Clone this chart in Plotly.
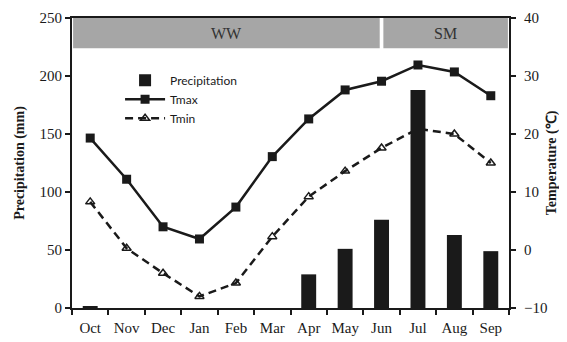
import plotly.graph_objects as go

months = ["Oct", "Nov", "Dec", "Jan", "Feb", "Mar", "Apr", "May", "Jun", "Jul", "Aug", "Sep"]
precip = [1, 0, 0, 0, 0, 0, 29, 51, 76, 188, 63, 49]
tmax = [19.3, 12.2, 4.0, 1.9, 7.4, 16.1, 22.6, 27.6, 29.1, 31.9, 30.7, 26.6]
tmin = [8.3, 0.3, -4.0, -8.0, -5.7, 2.3, 9.2, 13.6, 17.6, 20.9, 20.0, 15.0]
seasons = ["WW", "SM"]

serif = "Liberation Serif"
sans = "Lato"
ink = "#1a1a1a"

fig = go.Figure()
fig.add_trace(go.Scatter(
    x=months, y=tmax, name="Tmax", mode="lines+markers", yaxis="y", legendrank=2,
    line=dict(color=ink, width=2.5),
    marker=dict(symbol="square", size=9, color=ink),
))
fig.add_trace(go.Scatter(
    x=months, y=tmin, name="Tmin", mode="lines+markers", yaxis="y", legendrank=3,
    line=dict(color=ink, width=2.5, dash="8px,5px"),
    marker=dict(symbol="triangle-up-open", size=8, color=ink, line=dict(width=1.5)),
))
fig.add_trace(go.Bar(
    x=months, y=precip, name="Precipitation", yaxis="y2", legendrank=1,
    marker=dict(color=ink, line=dict(width=0)),
))

band_y0, band_y1 = 224, 250
fig.add_shape(type="rect", xref="x", yref="y2", x0=-0.47, x1=8.0 - 0.05, y0=band_y0, y1=band_y1,
              fillcolor="#a6a6a6", line=dict(width=0), layer="below")
fig.add_shape(type="rect", xref="x", yref="y2", x0=8.0 + 0.05, x1=11.47, y0=band_y0, y1=band_y1,
              fillcolor="#a6a6a6", line=dict(width=0), layer="below")
fig.add_annotation(x=(-0.5 + 8.0) / 2, y=(band_y0 + band_y1) / 2, xref="x", yref="y2",
                   text=seasons[0], showarrow=False, font=dict(family=serif, size=16, color="#333"))
fig.add_annotation(x=(8.0 + 11.5) / 2, y=(band_y0 + band_y1) / 2, xref="x", yref="y2",
                   text=seasons[1], showarrow=False, font=dict(family=serif, size=16, color="#333"))

axis_common = dict(showgrid=False, zeroline=False, showline=True, linecolor=ink, linewidth=2,
                   ticks="outside", ticklen=5, tickwidth=2, tickcolor=ink,
                   tickfont=dict(family=serif, size=15, color=ink))

fig.update_layout(
    width=567, height=342,
    margin=dict(l=64, r=66, t=10, b=42, autoexpand=False),
    paper_bgcolor="white", plot_bgcolor="white",
    bargap=0.59,
    showlegend=True,
    legend=dict(x=0.11, y=0.72, xanchor="left", yanchor="middle",
                traceorder="normal", bgcolor="rgba(0,0,0,0)",
                font=dict(family=sans, size=12, color=ink),
                itemwidth=40, tracegroupgap=0),
    xaxis=dict(type="category", mirror=True, tickson="boundaries", range=[-0.5, 11.5],
               ticklabelstandoff=5, tickangle=0, **axis_common),
    yaxis=dict(side="right", range=[-10, 40], dtick=10, ticklabelstandoff=5,
               title=dict(text="<b>Temperature (℃)</b>",
                          font=dict(family=serif, size=14, color=ink), standoff=0),
               **axis_common),
    yaxis2=dict(overlaying="y", side="left", range=[0, 250], dtick=50, ticklabelstandoff=0,
                title=dict(text="<b>Precipitation (mm)</b>",
                           font=dict(family=serif, size=14, color=ink), standoff=12),
                **axis_common),
)

fig.write_html("out.html")
